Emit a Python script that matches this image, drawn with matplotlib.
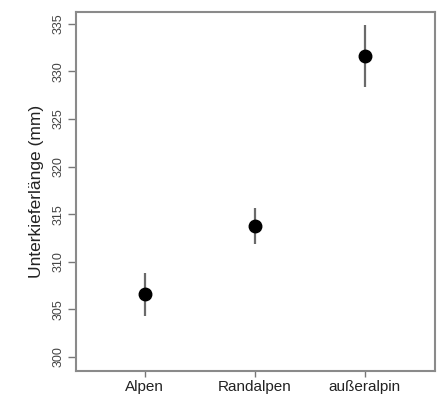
import numpy as np
import matplotlib
matplotlib.use('Agg')
import matplotlib.pyplot as plt

# Unterkieferlänge nach Region (Mittelwert mit Streuung)
regions = ["Alpen", "Randalpen", "außeralpin"]
means = [306.6, 313.8, 331.6]
err_up = [2.2, 1.9, 3.3]
err_down = [2.3, 1.9, 3.2]
yticks = [300, 305, 310, 315, 320, 325, 330, 335]

plt.rcParams['font.family'] = ['Liberation Sans', 'DejaVu Sans']

fig = plt.figure(figsize=(4.46, 3.95), dpi=100, facecolor='white')
ax = fig.add_axes([0.170, 0.0615, 0.805, 0.9085])

x = np.arange(1, len(regions) + 1)
ax.errorbar(x, means, yerr=[err_down, err_up], fmt='none',
            ecolor='#6a6a6a', elinewidth=1.6, capsize=0, zorder=2)
ax.plot(x, means, 'o', color='black', markersize=9, zorder=3)

ax.set_xlim(0.373, 3.636)
ax.set_ylim(298.56, 336.26)
ax.set_xticks(x)
ax.set_xticklabels(regions, fontsize=11, color='#222222')
ax.set_yticks(yticks)
ax.set_yticklabels([str(t) for t in yticks], rotation=90, va='center',
                   fontsize=9, color='#444444')
ax.tick_params(axis='y', length=6, width=1, color='#777777', pad=2)
ax.tick_params(axis='x', length=4, width=1, color='#777777', pad=3)
ax.set_ylabel("Unterkieferlänge (mm)", fontsize=12.5, color='#222222', labelpad=6)

for spine in ax.spines.values():
    spine.set_color('#8a8a8a')
    spine.set_linewidth(1.5)

fig.savefig('out.png', dpi=100, facecolor='white')
